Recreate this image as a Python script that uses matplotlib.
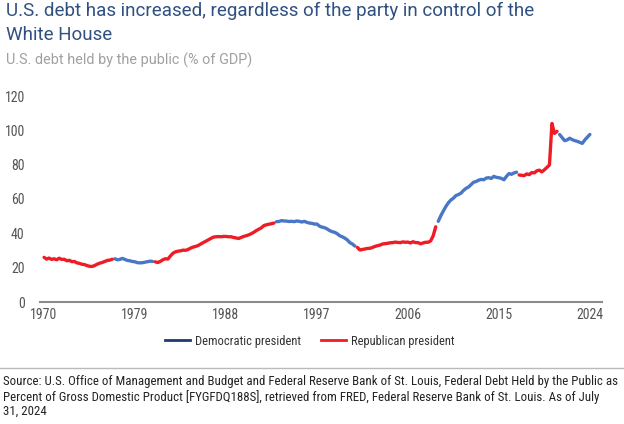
import matplotlib.pyplot as plt
import numpy as np
from matplotlib.lines import Line2D


# quarterly debt held by the public, % of GDP, 1970 Q1 .. 2024 Q1
START_YEAR = 1970
DEBT = [
    26.0, 25.0, 25.6, 24.8,   # 1970
    25.2, 24.6, 25.5, 24.8,   # 1971
    24.9, 24.0, 24.3, 23.5,   # 1972
    23.6, 22.8, 22.5, 22.0,   # 1973
    21.8, 21.2, 20.8, 20.7,   # 1974
    21.2, 22.0, 22.6, 23.0,   # 1975
    23.6, 24.2, 24.4, 24.9,   # 1976
    25.2, 24.6, 24.8, 25.4,   # 1977
    24.8, 24.2, 24.0, 23.6,   # 1978
    23.4, 22.9, 22.8, 22.9,   # 1979
    23.2, 23.5, 23.8, 23.6,   # 1980
    23.4, 23.0, 23.6, 24.6,   # 1981
    25.2, 25.0, 26.8, 28.4,   # 1982
    29.2, 29.6, 29.8, 30.2,   # 1983
    30.1, 30.6, 31.4, 32.0,   # 1984
    32.4, 32.9, 33.8, 34.6,   # 1985
    35.4, 36.2, 37.0, 37.8,   # 1986
    38.0, 38.1, 38.0, 38.2,   # 1987
    38.2, 38.0, 38.0, 37.6,   # 1988
    37.3, 37.0, 37.6, 38.2,   # 1989
    38.6, 39.1, 39.8, 40.6,   # 1990
    41.6, 42.4, 43.2, 44.5,   # 1991
    45.0, 45.3, 45.6, 46.0,   # 1992
    46.8, 46.9, 47.4, 47.2,   # 1993
    47.1, 46.9, 47.0, 46.8,   # 1994
    47.2, 47.0, 46.6, 47.0,   # 1995
    46.4, 46.0, 45.8, 45.4,   # 1996
    45.4, 44.2, 43.6, 43.3,   # 1997
    42.6, 41.6, 41.0, 40.6,   # 1998
    39.8, 38.6, 38.0, 37.2,   # 1999
    36.2, 34.6, 33.8, 32.6,   # 2000
    31.8, 30.3, 30.6, 30.9,   # 2001
    31.2, 31.3, 31.8, 32.4,   # 2002
    32.8, 33.2, 33.8, 34.0,   # 2003
    34.2, 34.5, 34.6, 34.9,   # 2004
    34.7, 34.6, 35.0, 34.8,   # 2005
    34.9, 34.4, 35.1, 34.6,   # 2006
    34.6, 33.9, 34.4, 34.8,   # 2007
    34.8, 35.6, 38.6, 43.8,   # 2008
    47.0, 50.2, 53.0, 55.6,   # 2009
    57.8, 59.4, 60.5, 62.0,   # 2010
    62.6, 63.4, 65.0, 66.2,   # 2011
    67.0, 68.4, 69.8, 70.2,   # 2012
    71.0, 71.4, 71.2, 72.2,   # 2013
    72.4, 72.0, 73.2, 72.6,   # 2014
    72.4, 72.0, 71.2, 73.2,   # 2015
    74.8, 74.4, 75.2, 75.6,   # 2016
    74.0, 73.8, 73.6, 74.6,   # 2017
    74.2, 75.4, 75.2, 76.4,   # 2018
    76.8, 75.8, 77.0, 78.4,   # 2019
    79.8, 104.0, 98.2, 99.4,  # 2020
    97.6, 95.8, 94.0, 94.4,   # 2021
    95.4, 94.6, 94.0, 93.6,   # 2022
    93.0, 92.4, 94.4, 96.0,   # 2023
    97.6,                     # 2024
]

# first year of each presidency and the party in office
TERM_STARTS = [1970, 1977, 1981, 1993, 2001, 2009, 2017, 2021]
TERM_PARTY = ['R', 'D', 'R', 'D', 'R', 'D', 'R', 'D']

X_TICKS = [1970, 1979, 1988, 1997, 2006, 2015, 2024]
Y_TICKS = [0, 20, 40, 60, 80, 100, 120]

BLUE = '#4a76c6'
NAVY = '#1f3a6e'
RED = '#ee1c25'
TITLE_COLOR = '#2f5080'

COND = ['Roboto Condensed', 'Liberation Sans Narrow', 'Roboto', 'DejaVu Sans']
SANS = ['Roboto', 'DejaVu Sans']

TITLE = 'U.S. debt has increased, regardless of the party in control of the\nWhite House'
SUBTITLE = 'U.S. debt held by the public (% of GDP)'
SOURCE = ('Source: U.S. Office of Management and Budget and Federal Reserve Bank of St. Louis, '
          'Federal Debt Held by the Public as\n'
          'Percent of Gross Domestic Product [FYGFDQ188S], retrieved from FRED, '
          'Federal Reserve Bank of St. Louis. As of July\n'
          '31, 2024')


def party_by_quarter(x):
    party = []
    for t in x:
        idx = np.searchsorted(TERM_STARTS, np.floor(t), side='right') - 1
        party.append(TERM_PARTY[idx])
    return np.array(party)


def main():
    values = np.array(DEBT)
    x = START_YEAR + np.arange(len(values)) / 4.0
    party = party_by_quarter(x)

    fig = plt.figure(figsize=(6.24, 4.24), dpi=100)
    ax = fig.add_axes([40 / 624, 1 - 302 / 424, 562 / 624, 206 / 424])

    for code, color in (('D', BLUE), ('R', RED)):
        y = np.where(party == code, values, np.nan)
        ax.plot(x, y, color=color, lw=2.4, solid_capstyle='round',
                solid_joinstyle='round')

    ax.set_xlim(1969.6, 2025.2)
    ax.set_ylim(0, 120)
    ax.set_xticks(X_TICKS)
    ax.set_yticks(Y_TICKS)
    ax.tick_params(length=0, labelsize=10, labelcolor='#555555')
    ax.tick_params(axis='y', pad=11)
    ax.tick_params(axis='x', pad=4)
    for lab in ax.get_xticklabels() + ax.get_yticklabels():
        lab.set_family(COND)

    for side in ('top', 'right', 'left'):
        ax.spines[side].set_visible(False)
    ax.spines['bottom'].set_color('#8c8c8c')
    ax.spines['bottom'].set_linewidth(1.5)

    fig.text(6 / 624, 1 - 2 / 424, TITLE, fontsize=13.5, color=TITLE_COLOR,
             family=SANS, va='top', linespacing=1.4)
    fig.text(6 / 624, 1 - 65 / 424, SUBTITLE, fontsize=10.4, color='#a0a0a0',
             family=SANS, va='baseline')

    handles = [Line2D([], [], color=NAVY, lw=2),
               Line2D([], [], color=RED, lw=2)]
    fig.legend(handles, ['Democratic president', 'Republican president'],
               loc='center', bbox_to_anchor=(310 / 624, 1 - 341 / 424),
               ncol=2, frameon=False, handlelength=2.0, handletextpad=0.4,
               columnspacing=1.6, prop={'family': COND, 'size': 9},
               labelcolor='#333333')

    fig.add_artist(Line2D([0, 1], [1 - 368 / 424, 1 - 368 / 424],
                          color='#bbbbbb', lw=1, transform=fig.transFigure))
    fig.text(3 / 624, 1 - 375 / 424, SOURCE, fontsize=9.3, color='#222222',
             family=COND, va='top', linespacing=1.15)

    fig.savefig('out.png', dpi=100)
    plt.close(fig)


if __name__ == '__main__':
    main()
